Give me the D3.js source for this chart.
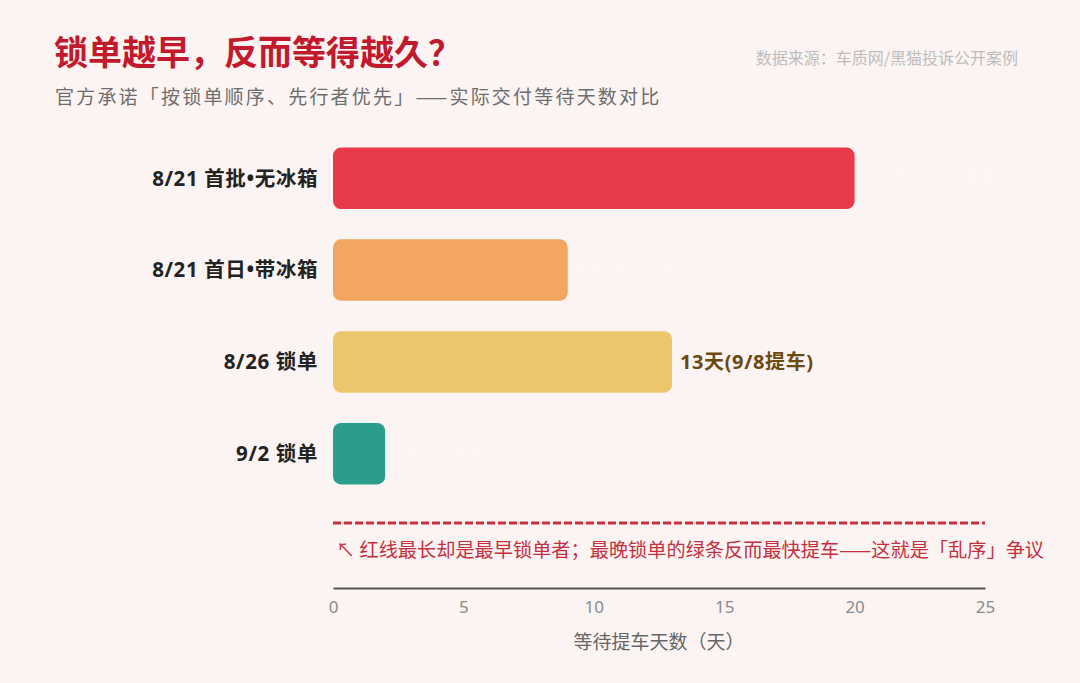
<!DOCTYPE html>
<html>
<head>
<meta charset="utf-8">
<script src="https://cdn.jsdelivr.net/npm/d3@7"></script>
<style>
  html, body { margin: 0; padding: 0; background: #fcf4f2; }
  svg { display: block; font-family: "Noto Sans CJK SC", "Noto Sans", sans-serif; }
</style>
</head>
<body>
<div class="canvas"></div>
<script>
// chart data
const categories = ['8/21 首批•无冰箱', '8/21 首日•带冰箱', '8/26 锁单', '9/2 锁单'];
const waitDays = [20, 9, 13, 2];
const valueLabels = ['20天(9/10提车)', '9天(8/30提车)', '13天(9/8提车)', '2天(9/4提车)'];
const barColors = ['#e83a48', '#f3a562', '#ecc66c', '#2a9d8c'];
const labelColors = ['#fdf6f4', '#fdf6f4', '#6b4a12', '#fdf6f4'];
const xTicks = [0, 5, 10, 15, 20, 25];

const width = 1080, height = 683;
const latinFirst = '"Noto Sans", "Noto Sans CJK SC", sans-serif';

const svg = d3.select('.canvas')
    .append('svg')
    .attr('width', width)
    .attr('height', height);

svg.append('rect')
    .attr('width', width)
    .attr('height', height)
    .attr('fill', '#fcf4f2');

// title block
svg.append('text')
    .attr('x', 54).attr('y', 65)
    .attr('font-size', 34).attr('font-weight', 700)
    .attr('fill', '#c3192c')
    .text('锁单越早，反而等得越久？');

svg.append('text')
    .attr('x', 55).attr('y', 104)
    .attr('font-size', 19).attr('fill', '#6e6e6e')
    .attr('letter-spacing', 2.2)
    .text('官方承诺「按锁单顺序、先行者优先」——实际交付等待天数对比');

svg.append('text')
    .attr('x', 1018).attr('y', 64)
    .attr('text-anchor', 'end')
    .attr('font-size', 16).attr('fill', '#bdbdbd')
    .text('数据来源：车质网/黑猫投诉公开案例');

// scales
const x = d3.scaleLinear()
    .domain([0, 25])
    .range([333, 985]);

const y = d3.scaleBand()
    .domain(categories)
    .range([132, 500])
    .paddingInner(0.33)
    .paddingOuter(0.17);

const graph = svg.append('g');

// bars
graph.selectAll('rect.bar')
    .data(categories)
    .enter()
    .append('rect')
    .attr('class', 'bar')
    .attr('x', x(0))
    .attr('y', d => y(d))
    .attr('width', (d, i) => x(waitDays[i]) - x(0))
    .attr('height', y.bandwidth())
    .attr('rx', 8)
    .attr('fill', (d, i) => barColors[i]);

// value labels
graph.selectAll('text.val')
    .data(categories)
    .enter()
    .append('text')
    .attr('class', 'val')
    .attr('x', (d, i) => x(waitDays[i]) + 8)
    .attr('y', d => y(d) + y.bandwidth() / 2)
    .attr('dy', '0.35em')
    .attr('font-size', 20).attr('font-weight', 700)
    .attr('letter-spacing', 0.6)
    .attr('font-family', latinFirst)
    .attr('fill', (d, i) => labelColors[i])
    .text((d, i) => valueLabels[i]);

// category labels
graph.selectAll('text.cat')
    .data(categories)
    .enter()
    .append('text')
    .attr('class', 'cat')
    .attr('x', 318)
    .attr('y', d => y(d) + y.bandwidth() / 2)
    .attr('dy', '0.35em')
    .attr('text-anchor', 'end')
    .attr('font-size', 20.5).attr('font-weight', 700)
    .attr('letter-spacing', 0.6)
    .attr('font-family', latinFirst)
    .attr('fill', '#222')
    .text(d => d);

// dashed red rule + note
svg.append('line')
    .attr('x1', x(0)).attr('x2', x(25))
    .attr('y1', 523).attr('y2', 523)
    .attr('stroke', '#c8323e')
    .attr('stroke-width', 3)
    .attr('stroke-dasharray', '8,3');

svg.append('text')
    .attr('x', 336).attr('y', 557)
    .attr('font-size', 19.2).attr('fill', '#c4303f')
    .text('↖ 红线最长却是最早锁单者；最晚锁单的绿条反而最快提车——这就是「乱序」争议');

// x axis
const xAxis = d3.axisBottom(x)
    .tickValues(xTicks)
    .tickSize(0)
    .tickPadding(13);

const xAxisGroup = svg.append('g')
    .attr('transform', 'translate(0, 588)')
    .call(xAxis);

xAxisGroup.select('.domain')
    .attr('stroke', '#555')
    .attr('stroke-width', 2);

xAxisGroup.selectAll('text')
    .attr('font-size', 17)
    .attr('fill', '#8a8a8a')
    .attr('font-family', latinFirst);

svg.append('text')
    .attr('x', (x(0) + x(25)) / 2).attr('y', 649)
    .attr('text-anchor', 'middle')
    .attr('font-size', 19).attr('fill', '#666')
    .text('等待提车天数（天）');
</script>
</body>
</html>
